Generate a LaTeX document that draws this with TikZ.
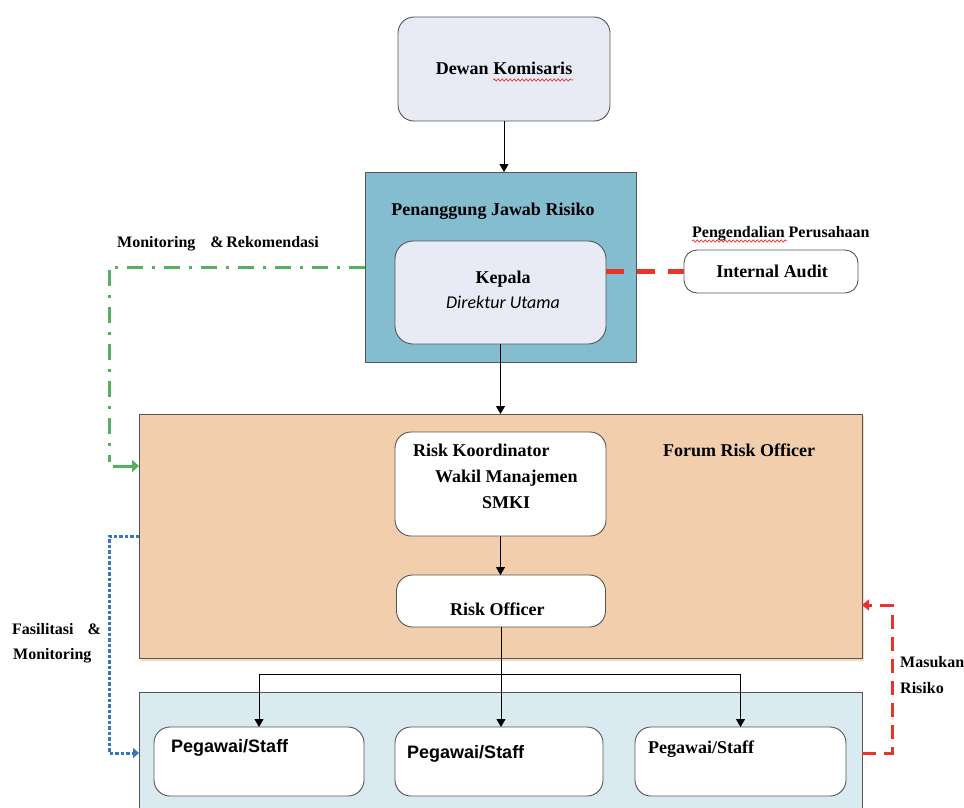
\documentclass[tikz,border=0pt]{standalone}
\usepackage{fontspec}
\setmainfont{Liberation Serif}
\newfontfamily\arialf{Liberation Sans}
\newfontfamily\calibrif{Carlito}
\usetikzlibrary{arrows.meta,decorations.pathmorphing}
\definecolor{lav}{HTML}{E8EBF5}
\definecolor{pjrblue}{HTML}{84BDD0}
\definecolor{peach}{HTML}{F2CEAD}
\definecolor{peachshadow}{HTML}{F6DCC4}
\definecolor{staffblue}{HTML}{D9EAF0}
\definecolor{bgray}{HTML}{555555}
\definecolor{gline}{HTML}{55B15D}
\definecolor{bline}{HTML}{3675C6}
\definecolor{rline}{HTML}{E8352B}
\tikzset{
  box/.style={draw=bgray, line width=0.9pt, inner sep=0pt, outer sep=0pt},
  rbox/.style={box, rounded corners=16pt},
  tb/.style={inner sep=0pt, font=\bfseries\fontsize{18}{20}\selectfont},
  tbs/.style={inner sep=0pt, font=\bfseries\fontsize{16}{18}\selectfont},
  arr/.style={draw=black, line width=0.8pt, -{Triangle[length=8pt,width=9pt]}},
  wavy/.style={draw=rline, line width=0.7pt, decorate, decoration={snake, amplitude=1.1pt, segment length=4pt}}
}
\begin{document}
\begin{tikzpicture}[x=1pt,y=-1pt]
\clip (0,0) rectangle (964,807);
\fill[white] (0,0) rectangle (964,807);

% Dewan Komisaris
\node[rbox, fill=lav, minimum width=212pt, minimum height=104pt] (dewan) at (504,69) {};
\node[tb, anchor=base] (tdewan) at (504,74) {Dewan Komisaris};
\draw[wavy] (493,80) -- (573,80);

% Penanggung Jawab Risiko
\node[box, fill=pjrblue, minimum width=271pt, minimum height=190pt] (pjr) at (500.5,267) {};
\node[tb, anchor=base] (tpjr) at (493,215) {Penanggung Jawab Risiko};
\node[rbox, rounded corners=18pt, fill=lav, minimum width=211pt, minimum height=103pt] (kepala) at (500.5,292.5) {};
\node[tb, anchor=base] (tkepala) at (503,283) {Kepala};
\node[inner sep=0pt, anchor=base, font=\calibrif\itshape\fontsize{18}{20}\selectfont] (tdir) at (503,308) {Direktur Utama};

% Internal Audit
\node[rbox, rounded corners=13pt, fill=white, minimum width=174pt, minimum height=43pt] (ia) at (771,271.5) {};
\node[tb, anchor=base] (tia) at (772,277) {Internal Audit};
\node[tbs, anchor=base west] (tpeng) at (692,237) {Pengendalian Perusahaan};
\draw[wavy] (692,241) -- (787,241);

% Forum Risk Officer
\fill[peachshadow] (141,416) rectangle (864,661);
\node[box, fill=peach, minimum width=723pt, minimum height=244pt] (forum) at (500.5,536) {};
\node[tb, anchor=base west] (tforum) at (663,456) {Forum Risk Officer};
\node[rbox, fill=white, minimum width=211pt, minimum height=104pt] (rk) at (500.5,484) {};
\node[tb, anchor=base west] (trk1) at (413,456) {Risk Koordinator};
\node[tb, anchor=base west] (trk2) at (435,482) {Wakil Manajemen};
\node[tb, anchor=base west] (trk3) at (482,508) {SMKI};
\node[rbox, fill=white, minimum width=209pt, minimum height=52pt] (ro) at (501,601) {};
\node[tb, anchor=base west] (tro) at (450,615) {Risk Officer};

% Staff
\node[box, fill=staffblue, minimum width=723pt, minimum height=128pt] (staffc) at (500.5,756) {};
\node[rbox, fill=white, minimum width=210pt, minimum height=69pt] (s1) at (259,761.5) {};
\node[rbox, fill=white, minimum width=208pt, minimum height=69pt] (s2) at (499,761.5) {};
\node[rbox, fill=white, minimum width=211pt, minimum height=69pt] (s3) at (740.5,761.5) {};
\node[inner sep=0pt, anchor=base west, font=\arialf\bfseries\fontsize{18}{20}\selectfont] (ts1) at (171,752) {Pegawai/Staff};
\node[inner sep=0pt, anchor=base west, font=\arialf\bfseries\fontsize{18}{20}\selectfont] (ts2) at (407,758) {Pegawai/Staff};
\node[tb, anchor=base west] (ts3) at (648,753) {Pegawai/Staff};

% Black connectors
\draw[arr] (dewan.south) -- (dewan.south |- pjr.north);
\draw[arr] (kepala.south) -- (kepala.south |- forum.north);
\draw[arr] (rk.south) -- (rk.south |- ro.north);
\draw[arr] (ro.south) -- (ro.south |- s2.north);
\coordinate (bj) at (501,674);
\draw[arr] (bj) -| (s1.north);
\draw[arr] (bj) -| (s3.north);

% Red dashed Kepala - Internal Audit
\draw[rline, line width=5pt, dash pattern=on 18pt off 13pt] (ia.west -| kepala.east) -- (ia.west);

% Green dash-dot Monitoring & Rekomendasi
\node[tbs, anchor=base west] (tmon) at (117,247) {Monitoring\hspace{11pt} \&\,Rekomendasi};
\coordinate (g1) at (109,267);
\coordinate (g2) at (109,462);
\coordinate (g3) at (113,466);
\draw[gline, line width=3pt, dash pattern=on 16pt off 9pt on 3pt off 9pt] (pjr.west |- g1) -- (g1) -- (g2);
\draw[gline, line width=3pt, -{Triangle[length=7pt,width=12pt]}] (g3) -- (g3 -| forum.west);

% Blue dotted Fasilitasi & Monitoring
\coordinate (b1) at (109,536);
\coordinate (b2) at (109,753);
\draw[bline, line width=3pt, dash pattern=on 3.5pt off 2pt, -{Triangle[length=6pt,width=10pt]}] (b1 -| forum.west) -- (b1) -- (b2) -- (b2 -| staffc.west);
\node[tbs, anchor=base west] (tfas1) at (12,634) {Fasilitasi\hspace{10pt} \&};
\node[tbs, anchor=base west] (tfas2) at (13,659) {Monitoring};

% Red dashed Masukan Risiko
\coordinate (r1) at (892,753);
\coordinate (r2) at (892,605);
\draw[rline, line width=3pt, dash pattern=on 14pt off 8pt, -{Triangle[length=7pt,width=11pt]}] (r1 -| staffc.east) -- (r1) -- (r2) -- (r2 -| forum.east);
\node[tbs, anchor=base west] (tmas1) at (900,667) {Masukan};
\node[tbs, anchor=base west] (tmas2) at (900,693) {Risiko};
\end{tikzpicture}
\end{document}
